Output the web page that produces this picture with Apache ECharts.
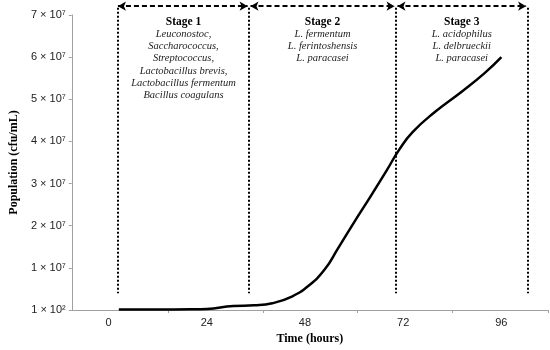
<!DOCTYPE html>
<html>
<head>
<meta charset="utf-8">
<script src="https://cdn.jsdelivr.net/npm/echarts@6/dist/echarts.min.js"></script>
<style>html,body{margin:0;padding:0;background:#fff}#c{width:550px;height:350px}</style>
</head>
<body>
<div id="c"></div>
<script>
// Data
const hours = [2.5, 12, 20, 24, 30.5, 35.6, 40, 44.8, 48.8, 52.8, 56, 60, 64, 67.9, 71, 74.3, 79.9, 86.3, 91.9, 96];
const population = [0.01e7, 0.01e7, 0.015e7, 0.025e7, 0.095e7, 0.11e7, 0.16e7, 0.32e7, 0.57e7, 0.96e7, 1.45e7, 2.08e7, 2.69e7, 3.30e7, 3.80e7, 4.22e7, 4.71e7, 5.18e7, 5.62e7, 6.0e7];
const xTickLabels = [0, 24, 48, 72, 96];
const xTickMarks = [14.5, 37.9, 60.7, 83.9, 107.4];
const stageBounds = [4.4, 35.8, 71.0, 102.5];
const stageTitles = ['Stage 1', 'Stage 2', 'Stage 3'];
const stageOrganisms = [
  ['Leuconostoc,', 'Saccharococcus,', 'Streptococcus,', 'Lactobacillus brevis,', 'Lactobacillus fermentum', 'Bacillus coagulans'],
  ['L. fermentum', 'L. ferintoshensis', 'L. paracasei'],
  ['L. acidophilus', 'L. delbrueckii', 'L. paracasei']
];
const arrowLevel = 7.21e7;
const dottedTop = 7.17e7;
const dottedBottom = 0.4e7;
const labelTop = 6.99e7;

const serif = '"Liberation Serif", "Times New Roman", serif';
const sans = '"Liberation Sans", Arial, sans-serif';

const X_MIN = -9, X_MAX = 107.4, Y_MAX = 7e7, Y_MAX_ANNOT = 7.3e7;
const GRID_TOP = 15, GRID_BOTTOM = 40;
const plotH = 350 - GRID_TOP - GRID_BOTTOM;
const annotTop = 350 - GRID_BOTTOM - plotH * Y_MAX_ANNOT / Y_MAX;

const markLines = [];
for (let i = 0; i < 3; i++) {
  const gap = 0.35;
  markLines.push([
    {coord: [stageBounds[i] + (i === 0 ? 0 : gap), arrowLevel], lineStyle: {type: [5, 3], width: 2, color: '#000'}},
    {coord: [stageBounds[i + 1] - gap, arrowLevel]}
  ]);
}
for (let i = 0; i < stageBounds.length; i++) {
  markLines.push([
    {coord: [stageBounds[i], dottedTop], symbol: 'none', lineStyle: {type: [2, 2], width: 2, color: '#000'}},
    {coord: [stageBounds[i], dottedBottom], symbol: 'none'}
  ]);
}

const markPoints = stageTitles.map((t, i) => ({
  coord: [(stageBounds[i] + stageBounds[i + 1]) / 2, labelTop],
  label: {
    formatter: '{b|' + t + '}\n' + stageOrganisms[i].map(s => '{i|' + s + '}').join('\n')
  }
}));

const chart = echarts.init(document.getElementById('c'));
chart.setOption({
  animation: false,
  backgroundColor: '#fff',
  grid: [
    {left: 62, right: 2, top: GRID_TOP, bottom: GRID_BOTTOM, containLabel: false},
    {left: 62, right: 2, top: annotTop, bottom: GRID_BOTTOM, containLabel: false}
  ],
  xAxis: [{
    type: 'value', min: X_MIN, max: X_MAX, gridIndex: 0,
    name: 'Time (hours)', nameLocation: 'middle', nameGap: 21,
    nameTextStyle: {fontFamily: serif, fontWeight: 'bold', fontSize: 12, color: '#000'},
    axisLine: {show: true, onZero: false, lineStyle: {color: '#a0a0a0', width: 1}},
    axisTick: {show: true, customValues: xTickMarks, length: 3, lineStyle: {color: '#a0a0a0'}},
    axisLabel: {customValues: xTickLabels, fontFamily: sans, fontSize: 11, color: '#222', margin: 7},
    splitLine: {show: false}
  }, {
    type: 'value', min: X_MIN, max: X_MAX, gridIndex: 1, show: false
  }],
  yAxis: [{
    type: 'value', min: 0, max: Y_MAX, interval: 1e7, gridIndex: 0,
    name: 'Population (cfu/mL)', nameLocation: 'middle', nameGap: 49,
    nameTextStyle: {fontFamily: serif, fontWeight: 'bold', fontSize: 12, color: '#000'},
    axisLine: {show: true, onZero: false, lineStyle: {color: '#a0a0a0', width: 1}},
    axisTick: {show: true, length: 3, lineStyle: {color: '#a0a0a0'}},
    axisLabel: {
      fontFamily: sans, fontSize: 11, color: '#222', margin: 6,
      formatter: v => v === 0 ? '1 \u00d7 10\u00b2' : (v / 1e7) + ' \u00d7 10\u2077'
    },
    splitLine: {show: false}
  }, {
    type: 'value', min: 0, max: Y_MAX_ANNOT, gridIndex: 1, show: false
  }],
  series: [{
    type: 'line',
    xAxisIndex: 0, yAxisIndex: 0,
    data: hours.map((h, i) => [h, population[i]]),
    smooth: 0.5,
    showSymbol: false,
    symbol: 'none',
    clip: false,
    lineStyle: {color: '#000', width: 2.5}
  }, {
    type: 'line',
    xAxisIndex: 1, yAxisIndex: 1,
    data: [],
    clip: false,
    silent: true,
    markLine: {
      silent: true,
      symbol: ['arrow', 'arrow'],
      symbolSize: [7, 8],
      label: {show: false},
      emphasis: {disabled: true},
      data: markLines
    },
    markPoint: {
      silent: true,
      symbol: 'circle',
      symbolSize: 0,
      label: {
        show: true, position: 'bottom', distance: 0, align: 'center', color: '#000',
        rich: {
          b: {fontFamily: serif, fontWeight: 'bold', fontSize: 11.5, lineHeight: 12.3, color: '#000'},
          i: {fontFamily: serif, fontStyle: 'italic', fontSize: 10.5, lineHeight: 12.3, color: '#222'}
        }
      },
      data: markPoints
    }
  }]
});
</script>
</body>
</html>
